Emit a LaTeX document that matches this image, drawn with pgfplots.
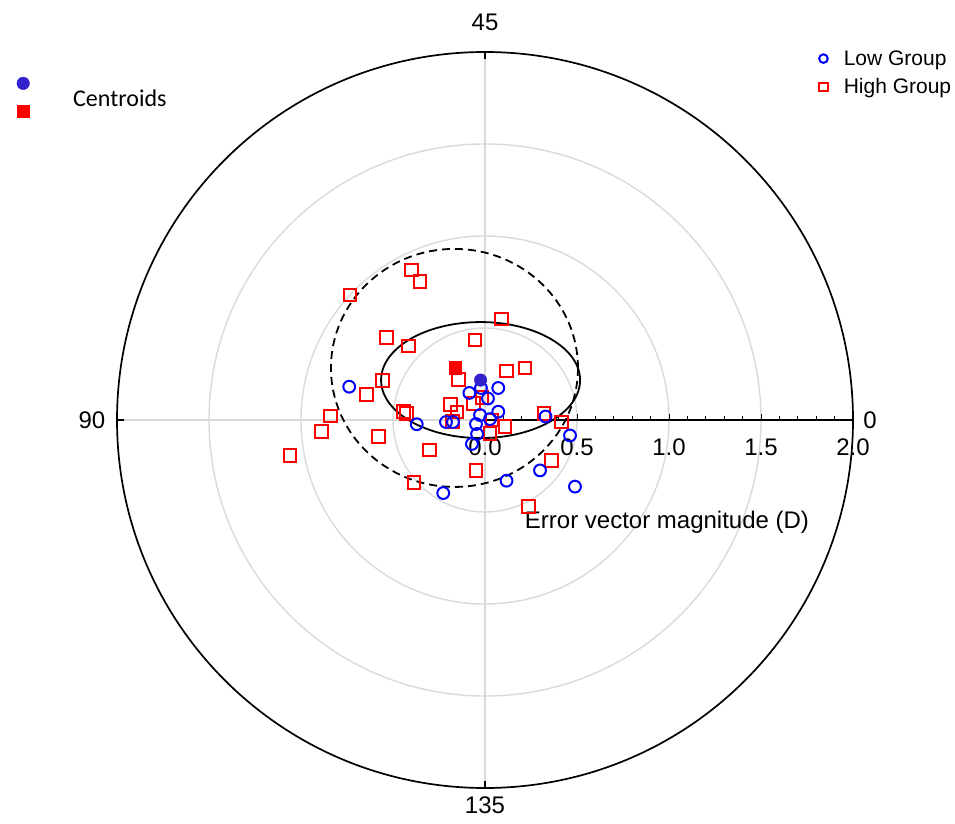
\documentclass[border=0pt]{standalone}
\usepackage{fontspec}
\setmainfont{Liberation Sans}
\newfontfamily\calibri{Carlito}
\usepackage{pgfplots}
\pgfplotsset{compat=1.18}
\definecolor{cblue}{RGB}{0,0,255}
\definecolor{cred}{RGB}{255,0,0}
\definecolor{centblue}{RGB}{51,34,204}
\definecolor{gridgray}{RGB}{218,218,218}
\begin{document}
\begin{tikzpicture}
\path (0,0) rectangle (955pt,823pt);
\begin{axis}[
  at={(485pt,403pt)}, anchor=center,
  x=184pt, y=184pt,
  xmin=-2, xmax=2, ymin=-2, ymax=2,
  hide axis, clip=false,
  reverse legend,
  legend cell align=left,
  legend image post style={mark size=4.3pt},
  legend style={draw=none, fill=none, inner sep=0pt, row sep=8pt, column sep=14pt,
    font=\fontsize{21}{25}\selectfont,
    at={(axis cs:1.815,2.02)}, anchor=north west},
]
% grid
\draw[gridgray, line width=1.4pt] (axis cs:0,0) circle[radius=92pt];
\draw[gridgray, line width=1.4pt] (axis cs:0,0) circle[radius=184pt];
\draw[gridgray, line width=1.4pt] (axis cs:0,0) circle[radius=276pt];
\draw[gridgray, line width=1.4pt] (axis cs:-2,0) -- (axis cs:0,0);
\draw[gridgray, line width=1.4pt] (axis cs:0,-2) -- (axis cs:0,2);
\draw[black, line width=1.7pt] (axis cs:0,0) circle[radius=368pt];
\draw[black, line width=1.5pt] (axis cs:0,0) -- (axis cs:2,0);
\draw[black, line width=1.4pt] (axis cs:0,2) -- ([yshift=-7pt]axis cs:0,2);
\draw[black, line width=1.4pt] (axis cs:-2,0) -- ([xshift=7pt]axis cs:-2,0);
\draw[black, line width=1.4pt] (axis cs:0,-2) -- ([yshift=7pt]axis cs:0,-2);
\pgfplotsinvokeforeach{0.1,0.2,0.3,0.4,0.6,0.7,0.8,0.9,1.1,1.2,1.3,1.4,1.6,1.7,1.8,1.9}{
  \draw[black, line width=1pt] (axis cs:#1,0) -- ([yshift=4pt]axis cs:#1,0);}
\pgfplotsinvokeforeach{0.5,1.0,1.5}{
  \draw[black, line width=1pt] (axis cs:#1,0) -- ([yshift=6pt]axis cs:#1,0);}
\pgfplotsinvokeforeach{0.0,0.5,1.0,1.5,2.0}{
  \node[font=\fontsize{24}{28}\selectfont, inner sep=0pt] at ([yshift=-27pt]axis cs:#1,0) {#1};}
\node[font=\fontsize{24}{28}\selectfont, inner sep=0pt] at ([yshift=30pt]axis cs:0,2) {45};
\node[font=\fontsize{24}{28}\selectfont, inner sep=0pt] at ([yshift=-17pt]axis cs:0,-2) {135};
\node[font=\fontsize{24}{28}\selectfont, inner sep=0pt] at ([xshift=-25pt]axis cs:-2,0) {90};
\node[font=\fontsize{24}{28}\selectfont, inner sep=0pt] at ([xshift=17pt]axis cs:2,0) {0};
\node[font=\fontsize{24}{28}\selectfont, inner sep=0pt] at (axis cs:0.989,-0.554) {Error vector magnitude (D)};

% High group
\addplot[only marks, mark=square, mark size=6.3pt, draw=cred, mark options={line width=2pt, draw=cred}] coordinates {
(-0.398,0.815) (-0.353,0.752) (-0.734,0.679) (0.091,0.549) (-0.534,0.449)
(-0.417,0.402) (-0.054,0.435) (-0.145,0.221) (-0.558,0.214) (-0.643,0.140)
(0.118,0.266) (0.217,0.283) (-0.839,0.022) (-0.888,-0.064) (-1.060,-0.194)
(-0.580,-0.091) (-0.444,0.045) (-0.426,0.036) (-0.303,-0.163) (-0.386,-0.341)
(-0.188,0.083) (-0.152,0.043) (-0.176,-0.008) (-0.064,0.091) (-0.016,0.122)
(0.038,0.000) (0.109,-0.036) (0.027,-0.072) (-0.049,-0.274) (0.235,-0.470)
(0.362,-0.220) (0.321,0.036) (0.417,-0.011)
};
\addlegendentry{High Group}
% Low group
\addplot[only marks, mark=o, mark size=5.9pt, draw=cblue, mark options={line width=2pt, draw=cblue}] coordinates {
(-0.738,0.181) (-0.371,-0.023) (-0.212,-0.011) (-0.174,-0.011) (-0.085,0.147)
(-0.022,0.174) (0.016,0.117) (0.072,0.174) (0.072,0.045) (-0.027,0.027)
(0.027,0.005) (-0.049,-0.022) (-0.043,-0.076) (-0.071,-0.130) (0.329,0.019)
(0.462,-0.084) (0.299,-0.274) (0.117,-0.330) (0.489,-0.362) (-0.227,-0.397)
};
\addlegendentry{Low Group}
% centroids
\addplot[forget plot, only marks, mark=*, mark size=6.3pt, centblue] coordinates {(-0.024,0.217)};
\addplot[forget plot, only marks, mark=square*, mark size=6.3pt, cred] coordinates {(-0.163,0.283)};
% ellipses
\draw[black, line width=1.8pt] (axis cs:-0.024,0.217) ellipse[x radius=99.5pt, y radius=58pt];
\draw[black, line width=1.8pt, dash pattern=on 8pt off 5pt] (axis cs:-0.166,0.283) ellipse[x radius=123.5pt, y radius=119pt];
\end{axis}
\begin{axis}[
  at={(485pt,403pt)}, anchor=center,
  x=184pt, y=184pt,
  xmin=-2, xmax=2, ymin=-2, ymax=2,
  hide axis, clip=false,
  legend style={draw=none, fill=none, inner sep=0pt, row sep=4pt,
    font=\fontsize{22}{26}\selectfont,
    at={(axis cs:-2.545,1.895)}, anchor=north west},
]
\addlegendimage{only marks, mark=*, mark size=6.3pt, centblue}
\addlegendentry{\strut}
\addlegendimage{only marks, mark=square*, mark size=6.3pt, cred}
\addlegendentry{\strut}
\end{axis}
\node[font=\calibri\fontsize{24}{28}\selectfont, anchor=west, inner sep=0pt] at (73pt,725pt) {Centroids};
\end{tikzpicture}
\end{document}
